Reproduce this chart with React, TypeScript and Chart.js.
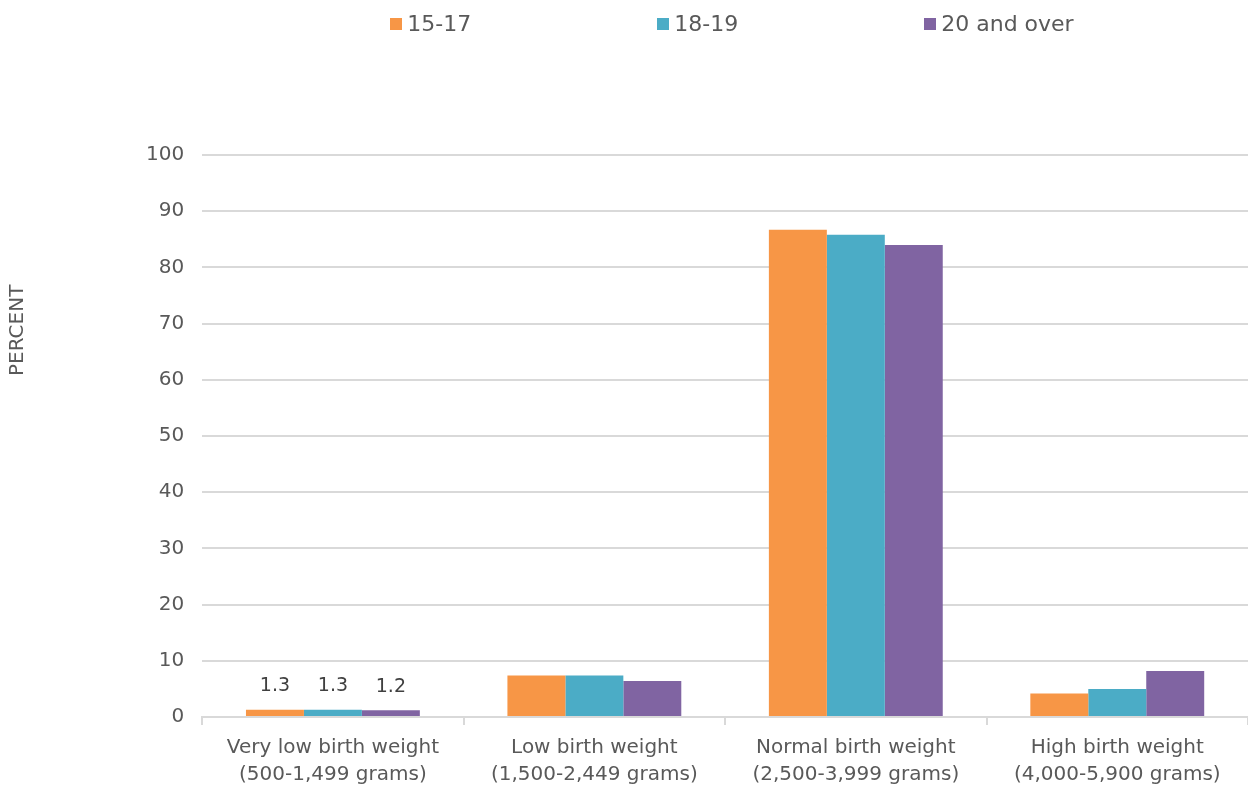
import React, { useEffect, useRef } from "react";
import { Chart, registerables } from "chart.js";

Chart.register(...registerables);

const categories: string[][] = [
  ["Very low birth weight", "(500-1,499 grams)"],
  ["Low birth weight", "(1,500-2,449 grams)"],
  ["Normal birth weight", "(2,500-3,999 grams)"],
  ["High birth weight", "(4,000-5,900 grams)"],
];
const seriesNames = ["15-17", "18-19", "20 and over"];
const age15to17 = [1.3, 7.4, 86.7, 4.2];
const age18to19 = [1.3, 7.4, 85.8, 5.0];
const age20plus = [1.2, 6.4, 84.0, 8.2];
const colors = ["#F79646", "#4BACC6", "#8064A2"];
const yTicksMax = 100;
const yStep = 10;
const labelledCategory = 0;

const FONT = "'DejaVu Sans', sans-serif";
const TEXT = "#595959";

const yTitlePlugin = {
  id: "yTitle",
  afterDraw(chart: any) {
    const { ctx, chartArea } = chart;
    ctx.save();
    ctx.fillStyle = TEXT;
    ctx.font = `20px ${FONT}`;
    ctx.textAlign = "center";
    ctx.textBaseline = "middle";
    ctx.translate(18, chartArea.top + (chartArea.bottom - chartArea.top) * 0.312);
    ctx.rotate(-Math.PI / 2);
    ctx.fillText("PERCENT", 0, 0);
    ctx.restore();
  },
};

const valueLabelPlugin = {
  id: "valueLabels",
  afterDatasetsDraw(chart: any) {
    const { ctx } = chart;
    ctx.save();
    ctx.fillStyle = "#404040";
    ctx.font = `19px ${FONT}`;
    ctx.textAlign = "center";
    ctx.textBaseline = "bottom";
    chart.data.datasets.forEach((ds: any, i: number) => {
      const meta = chart.getDatasetMeta(i);
      const bar = meta.data[labelledCategory];
      if (!bar) return;
      const v = ds.data[labelledCategory] as number;
      ctx.fillText(v.toFixed(1), bar.x, bar.y - 14);
    });
    ctx.restore();
  },
};

export default function App() {
  const ref = useRef<HTMLCanvasElement | null>(null);

  useEffect(() => {
    document.body.style.margin = "0";
    if (!ref.current) return;
    const chart = new Chart(ref.current, {
      type: "bar",
      data: {
        labels: categories,
        datasets: [age15to17, age18to19, age20plus].map((d, i) => ({
          label: seriesNames[i],
          data: d,
          backgroundColor: colors[i],
          borderWidth: 0,
          categoryPercentage: 0.665,
          barPercentage: 1.0,
        })),
      },
      options: {
        animation: false,
        responsive: true,
        maintainAspectRatio: false,
        layout: { padding: { left: 128, top: 155, right: 0, bottom: 0 } },
        plugins: {
          legend: { display: false },
          tooltip: { enabled: false },
        },
        scales: {
          y: {
            min: 0,
            max: yTicksMax,
            ticks: {
              stepSize: yStep,
              color: TEXT,
              font: { family: FONT, size: 20 },
              padding: 18,
            },
            grid: { color: "#d9d9d9", lineWidth: 2, drawTicks: false },
            border: { display: false },
          },
          x: {
            afterFit(scale: any) {
              scale.height = 72;
            },
            ticks: {
              color: TEXT,
              font: { family: FONT, size: 20, lineHeight: 1.35 },
              padding: 9,
              maxRotation: 0,
              autoSkip: false,
            },
            grid: {
              display: true,
              drawOnChartArea: false,
              drawTicks: true,
              tickLength: 8,
              color: "#d9d9d9",
              lineWidth: 2,
            },
            border: { display: true, color: "#d9d9d9", width: 2 },
          },
        },
      },
      plugins: [yTitlePlugin, valueLabelPlugin],
    });
    return () => chart.destroy();
  }, []);

  return (
    <div style={{ position: "relative", width: 1248, height: 789 }}>
      <canvas ref={ref} />
      <div
        style={{
          position: "absolute",
          top: 10,
          left: 216,
          right: 0,
          display: "flex",
          justifyContent: "center",
          gap: 186,
          fontFamily: FONT,
          fontSize: 22,
          color: TEXT,
          lineHeight: "28px",
        }}
      >
        {seriesNames.map((n, i) => (
          <div key={n} style={{ display: "flex", alignItems: "center", gap: 5 }}>
            <span style={{ width: 12, height: 12, background: colors[i], display: "inline-block" }} />
            <span>{n}</span>
          </div>
        ))}
      </div>
    </div>
  );
}
